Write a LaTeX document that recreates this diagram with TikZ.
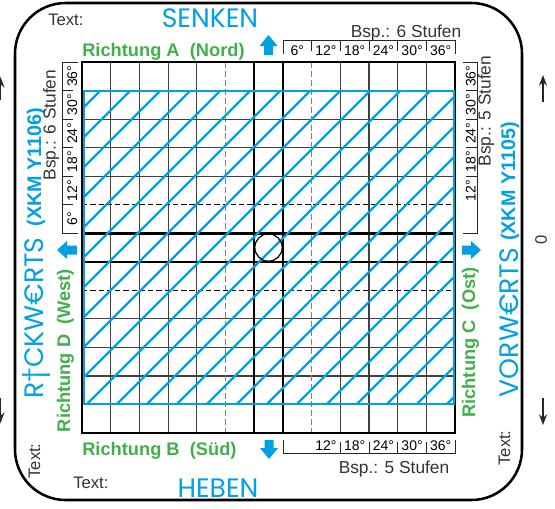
\documentclass[tikz,border=0pt]{standalone}
\usepackage{fontspec}
\setmainfont{Liberation Sans}
\newfontfamily\comicfont{Poppins}
\usetikzlibrary{arrows.meta}
\definecolor{cblue}{RGB}{0,160,227}
\definecolor{cgreen}{RGB}{64,176,74}
\definecolor{tgray}{RGB}{51,51,51}
\begin{document}
\begin{tikzpicture}[x=0.75pt,y=-0.75pt,
  gridthin/.style={line width=0.85pt,black!75},
  gridthick/.style={line width=1.9pt,black},
  dashv/.style={line width=0.9pt,black!50,dash pattern=on 4.5pt off 2.2pt},
  dashh/.style={line width=0.8pt,black,dash pattern=on 4pt off 2.2pt},
  gridborder/.style={line width=1.5pt,black},
  hatchline/.style={line width=1.8pt,cblue},
  scaleline/.style={line width=0.7pt,black!85},
  scalelbl/.style={font=\fontsize{10.5}{12}\selectfont,inner sep=0pt,anchor=base},
  txtlbl/.style={font=\fontsize{12.5}{14}\selectfont,text=tgray,inner sep=0pt,anchor=base},
  bsplbl/.style={font=\fontsize{13}{15}\selectfont,text=tgray,inner sep=0pt,anchor=base},
  dirlbl/.style={font=\bfseries\fontsize{13.7}{16}\selectfont,text=cgreen,inner sep=0pt,anchor=base},
  biglbl/.style={font=\comicfont\fontsize{20}{24}\selectfont,text=cblue,inner sep=0pt,anchor=base},
  xkmlbl/.style={font=\bfseries\fontsize{14.8}{17}\selectfont,text=cblue,inner sep=0pt,anchor=base},
  blockarrow/.style={fill=cblue},
  outerarrow/.style={line width=0.9pt,black!85,-{Stealth[length=8pt,width=6pt]}}
]
\useasboundingbox (0,0) rectangle (555,508);

% outer frame
\draw[line width=1.9pt,rounded corners=38pt] (15,3) rectangle (522,500);

% thin grid lines
\foreach \i in {1,2,3,4,9,10,11,12}{
  \draw[gridthin] ({82+\i*28.7},62) -- ({82+\i*28.7},433);
  \draw[gridthin] (82,{62+\i*28.54}) -- (455.1,{62+\i*28.54});
}
% dashed lines
\draw[dashv] ({82+5*28.7},62) -- ({82+5*28.7},433);
\draw[dashv] ({82+8*28.7},62) -- ({82+8*28.7},433);
\draw[dashh] (82,{62+5*28.54}) -- (455.1,{62+5*28.54});
\draw[dashh] (82,{62+8*28.54}) -- (455.1,{62+8*28.54});
% thick centre lines
\draw[gridthick] ({82+6*28.7},62) -- ({82+6*28.7},433);
\draw[gridthick] ({82+7*28.7},62) -- ({82+7*28.7},433);
\draw[gridthick] (82,{62+6*28.54}) -- (455.1,{62+6*28.54});
\draw[gridthick] (82,{62+7*28.54}) -- (455.1,{62+7*28.54});
\draw[gridborder] (82,62) rectangle (455.1,433);

% blue hatched field
\begin{scope}
  \clip (84,91) rectangle (454,404);
  \foreach \k in {0,...,23}{
    \pgfmathsetmacro\cc{191+30*\k}
    \draw[hatchline] (\cc-404,404) -- (\cc-91,91);
  }
\end{scope}
\draw[hatchline] (84,91) rectangle (454,404);

% centre circle
\node[circle,draw,line width=0.9pt,minimum size=20.5pt,inner sep=0pt] (ctr) at (268.5,247.5) {};

% scales
\draw[scaleline] (283.1,54) -- (283.1,40) -- (455.4,40) -- (455.4,54);
\foreach \i in {8,...,12}{ \draw[scaleline] ({82+\i*28.7},40) -- ({82+\i*28.7},51); }
\foreach \i/\v in {7/6,8/12,9/18,10/24,11/30,12/36}{
  \node[scalelbl] (top\i) at ({82+(\i+0.5)*28.7},55) {\v°};
}
\draw[scaleline] (283.1,440) -- (283.1,453) -- (455.4,453) -- (455.4,440);
\foreach \i in {9,...,12}{ \draw[scaleline] ({82+\i*28.7},453) -- ({82+\i*28.7},442); }
\foreach \i/\v in {8/12,9/18,10/24,11/30,12/36}{
  \node[scalelbl] (bot\i) at ({82+(\i+0.5)*28.7},450) {\v°};
}
\draw[scaleline] (78,62) -- (62,62) -- (62,233.2) -- (78,233.2);
\foreach \r in {1,...,5}{ \draw[scaleline] (62,{62+\r*28.54}) -- (73,{62+\r*28.54}); }
\foreach \r/\v in {0/36,1/30,2/24,3/18,4/12,5/6}{
  \node[scalelbl,rotate=90] (lft\r) at (77,{62+(\r+0.5)*28.54}) {\v°};
}
\draw[scaleline] (463,62) -- (477,62) -- (477,233.2) -- (463,233.2);
\foreach \r in {1,...,4}{ \draw[scaleline] (477,{62+\r*28.54}) -- (466,{62+\r*28.54}); }
\foreach \r/\v in {0/36,1/30,2/24,3/18,4/12}{
  \node[scalelbl,rotate=90] (rgt\r) at (475.5,{62+(\r+0.5)*28.54}) {\v°};
}

% block arrows
\fill[blockarrow] (264,55) -- (264,46) -- (259.5,46) -- (268.5,35) -- (277.5,46) -- (273,46) -- (273,55) -- cycle;
\fill[blockarrow] (264.5,440) -- (264.5,448) -- (260,448) -- (269,459) -- (278,448) -- (273.5,448) -- (273.5,440) -- cycle;
\fill[blockarrow] (77,245.5) -- (67,245.5) -- (67,241) -- (57,250) -- (67,259) -- (67,254.5) -- (77,254.5) -- cycle;
\fill[blockarrow] (462,245.5) -- (471,245.5) -- (471,241) -- (481,250) -- (471,259) -- (471,254.5) -- (462,254.5) -- cycle;

% outer arrows
\coordinate (ra1s) at (543,102); \coordinate (ra1e) at (543,75);
\coordinate (ra2s) at (543,398); \coordinate (ra2e) at (543,425);
\coordinate (la1s) at (0.5,100); \coordinate (la1e) at (0.5,77);
\coordinate (la2s) at (0.5,398); \coordinate (la2e) at (0.5,423);
\draw[outerarrow] (ra1s) -- (ra1e);
\draw[outerarrow] (ra2s) -- (ra2e);
\draw[outerarrow] (la1s) -- (la1e);
\draw[outerarrow] (la2s) -- (la2e);
\node[rotate=90,font=\fontsize{12.5}{14}\selectfont,text=tgray,inner sep=0pt] (zero) at (541,240) {0};

% big blue words
\node[biglbl] (senken) at (210,27) {SENKEN};
\node[biglbl] (heben) at (218,497) {HEBEN};
\node[biglbl,rotate=90] (rueck) at (43,318) {R†CKW€RTS};
\node[biglbl,rotate=90] (vorw) at (518,322.5) {VORW€RTS};
\node[xkmlbl,rotate=90] (xkml) at (41,167) {(XKM Y1106)};
\node[xkmlbl,rotate=90] (xkmr) at (515,181.5) {(XKM Y1105)};

% green direction labels
\node[dirlbl,anchor=base west] (richA) at (82,56) {Richtung A~~(Nord)};
\node[dirlbl,anchor=base west] (richB) at (82,455) {Richtung B~~(Süd)};
\node[dirlbl,rotate=90] (richD) at (70,350.5) {Richtung D~~(West)};
\node[dirlbl,rotate=90] (richC) at (475,342.5) {Richtung C~~(Ost)};

% Text: labels
\node[txtlbl,anchor=base west] (t1) at (48,25) {Text:};
\node[txtlbl,anchor=base west] (t2) at (73,488) {Text:};
\node[txtlbl,rotate=90] (t3) at (40,461) {Text:};
\node[txtlbl,rotate=90] (t4) at (510,448) {Text:};

% Bsp labels
\node[bsplbl] (bsp1) at (406,37) {Bsp.: 6 Stufen};
\node[bsplbl] (bsp2) at (394,473) {Bsp.: 5 Stufen};
\node[bsplbl,rotate=90] (bsp3) at (55.5,125) {Bsp.: 6 Stufen};
\node[bsplbl,rotate=90] (bsp4) at (490.5,111) {Bsp.: 5 Stufen};
\end{tikzpicture}
\end{document}
